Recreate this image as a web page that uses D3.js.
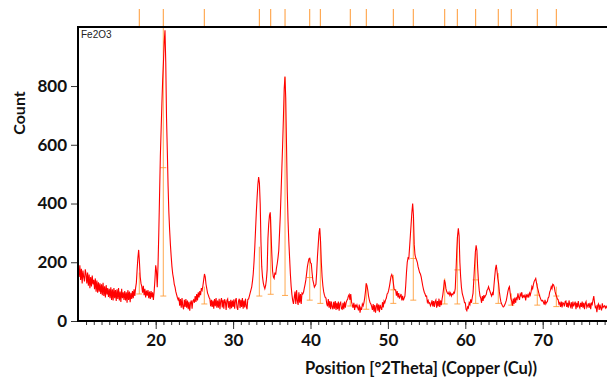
<!DOCTYPE html>
<html>
<head>
<meta charset="utf-8">
<script src="https://cdn.jsdelivr.net/npm/d3@7/dist/d3.min.js"></script>
<style>
  body { margin: 0; background: #fff; }
  svg { display: block; }
</style>
</head>
<body>
<div id="chart"></div>
<script>
const scanStart = 10;
const scanStep = 0.1;
const counts = [
  185,150,190,140,178,128,172,150,135,176, // 10
  160,128,165,120,158,112,150,118,155,125,
  140,108,145,100,138,96,132,100,128,92,
  125,88,130,85,118,80,122,90,112,82,
  110,78,115,72,108,70,112,78,105,68,
  108,75,112,70,100,65,110,78,98,72, // 15
  102,70,98,62,105,72,100,64,96,75,
  102,78,108,85,112,130,175,215,242,200,
  150,128,118,96,120,88,110,80,104,86,
  105,78,100,75,102,80,98,72,100,140,
  190,170,115,190,300,430,560,650,740,820, // 20
  880,950,990,880,690,580,460,370,310,260,
  220,185,160,145,125,115,100,90,80,72,
  80,52,75,45,78,50,40,72,48,75,
  45,70,40,65,35,62,70,42,68,72,
  62,85,65,92,70,98,80,102,88,112, // 25
  105,120,140,160,150,125,110,95,88,80,
  75,50,72,48,70,42,75,50,78,45,
  70,45,76,40,68,78,46,72,42,74,
  65,38,70,75,45,68,40,72,44,70,
  48,74,42,70,78,46,38,68,76,44, // 30
  72,48,78,42,70,46,76,50,40,74,
  75,85,95,105,115,135,160,200,250,310,
  370,420,465,490,470,400,270,185,150,130,
  118,110,120,140,175,280,330,360,370,300,
  230,170,150,145,165,158,180,195,215,240, // 35
  300,360,440,520,600,690,790,832,760,600,
  440,340,270,215,160,118,90,70,58,80,
  100,58,105,68,55,98,62,92,58,95,
  92,98,112,125,140,162,185,200,212,214,
  198,196,165,140,128,115,120,125,165,220, // 40
  260,300,316,270,200,150,120,100,88,80,
  78,58,50,75,45,68,40,66,48,40,
  65,42,68,38,62,40,66,35,60,64,
  42,40,62,40,66,45,62,70,75,85,
  90,72,92,65,55,45,62,38,56,48, // 45
  55,45,36,56,28,45,38,58,52,62,
  78,100,128,120,105,85,72,62,58,50,
  38,58,32,54,28,48,60,35,56,30,
  55,45,38,64,46,68,62,72,78,92,
  95,105,118,135,152,158,150,130,110,106, // 50
  105,86,102,80,95,76,84,92,70,86,
  70,78,85,120,165,200,215,212,250,290,
  330,370,400,360,260,225,215,208,200,185,
  175,165,160,150,135,120,108,98,92,84,
  85,64,70,60,62,52,58,70,50,68, // 55
  48,66,72,45,68,50,76,48,70,54,
  75,90,112,140,130,110,100,95,92,98,
  88,95,85,92,90,98,95,110,170,240,
  290,316,290,200,150,115,95,85,75,62,
  62,40,35,48,44,62,56,74,62,80, // 60
  95,140,190,235,258,240,180,135,105,85,
  78,62,85,68,88,80,86,90,104,108,
  117,108,100,92,85,95,88,120,150,178,
  191,170,145,128,100,80,65,58,52,48,
  50,55,62,70,85,100,112,117,95,75, // 65
  68,52,76,58,80,62,78,74,94,80,
  72,92,86,98,78,86,82,88,70,90,
  83,90,80,95,88,100,117,110,125,135,
  140,145,130,115,106,95,85,78,71,68,
  70,64,56,72,58,64,66,78,82,98, // 70
  105,117,110,125,123,115,100,90,83,75,
  72,58,62,48,66,46,62,60,50,66,
  68,48,62,45,70,55,48,64,42,66,
  50,58,66,40,62,46,68,50,44,62,
  48,66,45,62,40,60,66,46,52,60, // 75
  45,62,40,60,56,72,85,62,46,50,
  30,52,58,38,56,44,36,60,46,50,
  52,44,50,45,52
];

// reference pattern sticks
const stickPos  = [17.88, 20.98, 26.28, 33.39, 34.86, 36.71, 39.90, 41.27, 45.14, 47.21, 50.70, 53.28, 57.34, 58.97, 61.34, 64.26, 65.94, 69.30, 71.76];
const stickBase = [92, 85, 58, 85, 91, 87, 71, 60, 51, 40, 60, 71, 58, 58, 60, 60, 54, 54, 49];
const stickTop  = [165, 1000, 117, 253, 355, 830, 213, 287, 83, 128, 157, 355, 145, 287, 231, 163, 94, 128, 117];
const stickMark = [null, 522, null, null, null, null, 148, null, null, null, 106, 213, null, 174, 140, null, null, 88, 85];

const yTicks = [0, 200, 400, 600, 800];
const xTicks = [20, 30, 40, 50, 60, 70];
const phaseName = 'Fe2O3';

const width = 607, height = 378;
const plot = {left: 78, top: 27, bottom: 321, right: 607};

const svg = d3.select('#chart').append('svg')
  .attr('width', width)
  .attr('height', height);

const x = d3.scaleLinear().domain([10, 80]).range([78.3, 620.1]);
const y = d3.scaleLinear().domain([0, 1000]).range([321, 27.3]);

svg.append('clipPath').attr('id', 'clip')
  .append('rect')
  .attr('x', plot.left).attr('y', plot.top)
  .attr('width', plot.right - plot.left).attr('height', plot.bottom - plot.top);

// sticks in the top strip
svg.append('g')
  .selectAll('line')
  .data(stickPos)
  .enter()
  .append('line')
  .attr('x1', d => x(d)).attr('x2', d => x(d))
  .attr('y1', 9).attr('y2', 26)
  .style('stroke', '#ff9933')
  .style('stroke-width', 1);

// sticks inside the plot
const sticks = svg.append('g').attr('clip-path', 'url(#clip)')
  .style('stroke', '#ff9a33')
  .style('stroke-opacity', 0.85)
  .style('stroke-width', 1);

stickPos.forEach((p, i) => {
  sticks.append('line')
    .attr('x1', x(p)).attr('x2', x(p))
    .attr('y1', y(stickBase[i])).attr('y2', y(stickTop[i]));
  sticks.append('line')
    .attr('x1', x(p) - 3).attr('x2', x(p) + 3)
    .attr('y1', y(stickBase[i])).attr('y2', y(stickBase[i]));
  if (stickMark[i] != null) {
    sticks.append('line')
      .attr('x1', x(p) - 3).attr('x2', x(p) + 3)
      .attr('y1', y(stickMark[i])).attr('y2', y(stickMark[i]));
  }
});

// the scan
const line = d3.line()
  .x((d, i) => x(scanStart + i * scanStep))
  .y(d => y(d));

svg.append('path')
  .datum(counts)
  .attr('clip-path', 'url(#clip)')
  .attr('d', line)
  .style('fill', 'none')
  .style('stroke', '#ff0000')
  .style('stroke-width', 1.1);

// x axis: minor ticks every degree, labelled ticks every 10
const xMinor = svg.append('g')
  .attr('transform', `translate(0,${plot.bottom})`)
  .call(d3.axisBottom(x).tickValues(d3.range(11, 79)).tickSize(4).tickFormat(''));
xMinor.select('.domain').remove();
xMinor.selectAll('line').style('stroke', '#333');

const xMajor = svg.append('g')
  .attr('transform', `translate(0,${plot.bottom})`)
  .call(d3.axisBottom(x).tickValues(xTicks).tickSize(8).tickPadding(5));
xMajor.select('.domain').remove();
xMajor.selectAll('line').style('stroke', '#333');
xMajor.selectAll('text')
  .style('font-family', 'Lato, sans-serif')
  .style('font-weight', 'bold')
  .style('font-size', '17px')
  .style('fill', '#111');

// y axis
const yAxis = svg.append('g')
  .attr('transform', `translate(${plot.left},0)`)
  .call(d3.axisLeft(y).tickValues(yTicks).tickSize(7).tickPadding(4));
yAxis.select('.domain').remove();
yAxis.selectAll('line').style('stroke', '#333');
yAxis.selectAll('text')
  .style('font-family', 'Lato, sans-serif')
  .style('font-weight', 'bold')
  .style('font-size', '17px')
  .style('fill', '#111');

// frame: left, top and bottom
svg.append('line').attr('x1', plot.left).attr('x2', plot.left)
  .attr('y1', plot.top - 1).attr('y2', plot.bottom + 1)
  .style('stroke', '#000').style('stroke-width', 2);
svg.append('line').attr('x1', plot.left - 1).attr('x2', plot.right)
  .attr('y1', plot.top).attr('y2', plot.top)
  .style('stroke', '#000').style('stroke-width', 2);
svg.append('line').attr('x1', plot.left - 1).attr('x2', plot.right)
  .attr('y1', plot.bottom).attr('y2', plot.bottom)
  .style('stroke', '#000').style('stroke-width', 2);

// titles
svg.append('text')
  .attr('x', 421).attr('y', 374)
  .attr('text-anchor', 'middle')
  .style('font-family', 'Lato, sans-serif')
  .style('font-weight', 'bold')
  .style('font-size', '16.5px')
  .style('fill', '#111')
  .text('Position [°2Theta] (Copper (Cu))');

svg.append('text')
  .attr('transform', 'translate(25,113) rotate(-90)')
  .attr('text-anchor', 'middle')
  .style('font-family', 'Lato, sans-serif')
  .style('font-weight', 'bold')
  .style('font-size', '16px')
  .style('fill', '#111')
  .text('Count');

svg.append('text')
  .attr('x', 81).attr('y', 38)
  .style('font-family', 'Liberation Sans, Arial, sans-serif')
  .style('font-size', '10px')
  .style('fill', '#222')
  .text(phaseName);
</script>
</body>
</html>
